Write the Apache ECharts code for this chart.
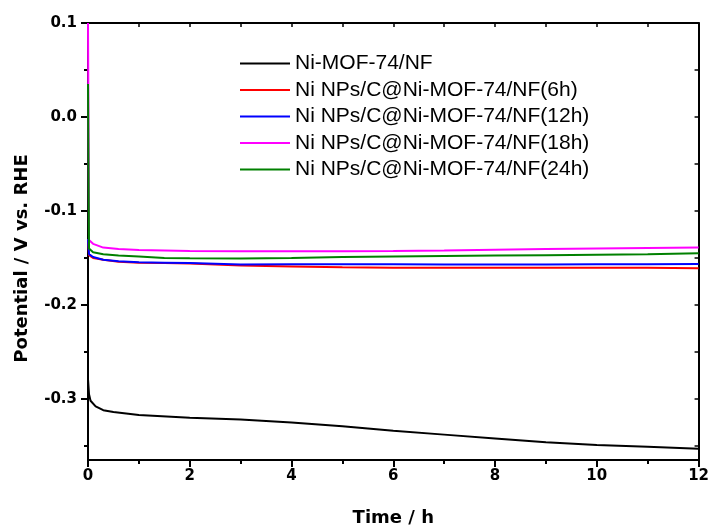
<!DOCTYPE html>
<html>
<head>
<meta charset="utf-8">
<script src="https://cdn.jsdelivr.net/npm/echarts@6/dist/echarts.min.js"></script>
<style>html,body{margin:0;padding:0;background:#fff}#c{width:712px;height:532px}</style>
</head>
<body>
<div id="c"></div>
<script>
// Data (time in hours, potential in V vs. RHE)
const seriesNames = ["Ni-MOF-74/NF", "Ni NPs/C@Ni-MOF-74/NF(6h)", "Ni NPs/C@Ni-MOF-74/NF(12h)", "Ni NPs/C@Ni-MOF-74/NF(18h)", "Ni NPs/C@Ni-MOF-74/NF(24h)"];
const timeBlack = [0, 0.02, 0.05, 0.15, 0.3, 0.5, 1, 2, 3, 4, 5, 6, 7, 8, 9, 10, 11, 12];
const valBlack = [-0.279, -0.295, -0.302, -0.308, -0.312, -0.314, -0.317, -0.320, -0.322, -0.325, -0.329, -0.334, -0.338, -0.342, -0.346, -0.349, -0.351, -0.353];
const timeColored = [0, 0.02, 0.1, 0.3, 0.6, 1, 1.5, 2, 3, 4, 5, 6, 7, 8, 9, 10, 11, 12];
const val6h = [-0.13, -0.147, -0.150, -0.152, -0.154, -0.155, -0.1555, -0.156, -0.158, -0.159, -0.160, -0.1603, -0.1605, -0.1605, -0.1605, -0.1605, -0.1605, -0.161];
const val12h = [-0.13, -0.146, -0.149, -0.152, -0.1535, -0.1545, -0.155, -0.1555, -0.157, -0.1568, -0.1566, -0.1568, -0.157, -0.157, -0.157, -0.1567, -0.1566, -0.1565];
const val18h = [0.1, -0.131, -0.135, -0.139, -0.1405, -0.1415, -0.142, -0.1425, -0.143, -0.143, -0.1428, -0.1425, -0.142, -0.1412, -0.1405, -0.140, -0.1395, -0.139];
const val24h = [0.035, -0.140, -0.144, -0.146, -0.1475, -0.1485, -0.150, -0.1503, -0.1505, -0.150, -0.149, -0.1485, -0.148, -0.1475, -0.147, -0.1465, -0.146, -0.145];
const yTickLabels = [0.1, 0.0, -0.1, -0.2, -0.3];
const yMinorTicks = [0.05, -0.05, -0.15, -0.25, -0.35];

const colors = ["#000000", "#ff0000", "#0000ff", "#ff00ff", "#008000"];
const TICKFONT = "'DejaVu Sans', sans-serif";
const LEGFONT = "'Liberation Sans', Arial, sans-serif";
function pairs(t, v) { return t.map((x, i) => [x, v[i]]); }

const seriesData = [
  pairs(timeBlack, valBlack),
  pairs(timeColored, val6h),
  pairs(timeColored, val12h),
  pairs(timeColored, val18h),
  pairs(timeColored, val24h)
];
const chart = echarts.init(document.getElementById('c'), null, {renderer: 'canvas'});
const axisLine = {show: true, onZero: false, lineStyle: {color: '#000', width: 2}};
const YMIN = -0.365, YMAX = 0.1;
chart.setOption({
  animation: false,
  backgroundColor: '#fff',
  grid: {left: 88, right: 12, top: 23, bottom: 70},
  legend: {
    orient: 'vertical', left: 240, top: 53, padding: 0,
    itemWidth: 50, itemHeight: 2, itemGap: 5.5, icon: 'rect',
    data: seriesNames,
    textStyle: {fontFamily: LEGFONT, fontSize: 21, color: '#000', lineHeight: 21}
  },
  xAxis: [
    {type: 'value', position: 'bottom', min: 0, max: 12, interval: 2,
     axisLine: axisLine,
     axisTick: {show: true, inside: false, length: 7, lineStyle: {width: 2, color: '#000'}},
     minorTick: {show: true, splitNumber: 2, length: 4, lineStyle: {width: 2, color: '#000'}},
     splitLine: {show: false}, minorSplitLine: {show: false},
     axisLabel: {fontFamily: TICKFONT, fontSize: 15, fontWeight: 'bold', color: '#000', margin: 9},
     name: 'Time / h', nameLocation: 'middle', nameGap: 49,
     nameTextStyle: {fontFamily: TICKFONT, fontSize: 18, fontWeight: 'bold', color: '#000'}},
    {type: 'value', position: 'top', min: 0, max: 12, interval: 1,
     axisLine: axisLine,
     axisTick: {show: true, inside: true, length: 4, lineStyle: {width: 1.5, color: '#000'}},
     axisLabel: {show: false}, splitLine: {show: false}}
  ],
  yAxis: [
    {type: 'value', position: 'left', min: YMIN, max: YMAX,
     axisLine: axisLine,
     axisTick: {show: true, inside: false, length: 7, customValues: yTickLabels, lineStyle: {width: 2, color: '#000'}},
     axisLabel: {fontFamily: TICKFONT, fontSize: 15, fontWeight: 'bold', color: '#000', margin: 11,
                 customValues: yTickLabels, formatter: v => Number(v).toFixed(1)},
     splitLine: {show: false},
     name: 'Potential / V vs. RHE', nameLocation: 'middle', nameGap: 57, nameRotate: 90,
     nameTextStyle: {fontFamily: TICKFONT, fontSize: 18, fontWeight: 'bold', color: '#000', padding: [0, 34, 0, 0]}},
    {type: 'value', position: 'left', min: YMIN, max: YMAX,
     axisLine: {show: false, onZero: false},
     axisTick: {show: true, inside: false, length: 4, customValues: yMinorTicks, lineStyle: {width: 2, color: '#000'}},
     axisLabel: {show: false}, splitLine: {show: false}},
    {type: 'value', position: 'right', min: YMIN, max: YMAX,
     axisLine: axisLine,
     axisTick: {show: true, inside: true, length: 4, customValues: yTickLabels.concat(yMinorTicks), lineStyle: {width: 1.5, color: '#000'}},
     axisLabel: {show: false}, splitLine: {show: false}}
  ],
  series: seriesNames.map((n, i) => ({
    name: n, type: 'line', data: seriesData[i],
    xAxisIndex: 0, yAxisIndex: 0,
    symbol: 'none', smooth: false,
    lineStyle: {color: colors[i], width: 2},
    itemStyle: {color: colors[i]},
    z: i === 0 ? 3 : 2
  }))
});
</script>
</body>
</html>
